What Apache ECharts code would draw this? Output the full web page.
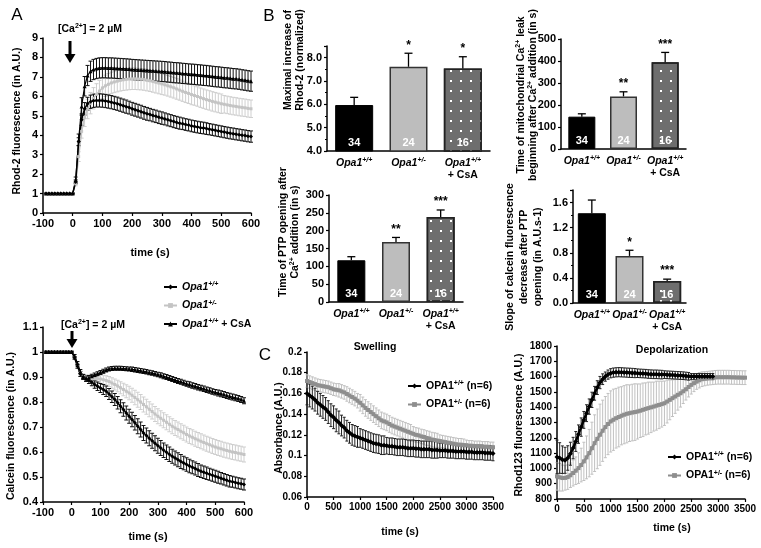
<!DOCTYPE html>
<html><head><meta charset="utf-8">
<script src="https://cdn.jsdelivr.net/npm/echarts/dist/echarts.min.js"></script>
<style>html,body{margin:0;padding:0;background:#fff}#c{width:761px;height:548px}</style>
</head><body><div id="c"></div><script>
// ---------- Panel A data (time in s) ----------
const tA = [-90,-80,-70,-60,-50,-40,-30,-20,-10,0,10,20,30,40,50,60,70,80,90,100,110,120,130,140,150,160,170,180,190,200,210,220,230,240,250,260,270,280,290,300,310,320,330,340,350,360,370,380,390,400,410,420,430,440,450,460,470,480,490,500,510,520,530,540,550,560,570,580,590,600];
const groupNames = ['Opa1+/+','Opa1+/-','Opa1+/+ + CsA'];
// Rhod-2 fluorescence
const rhodWT = [1,1,1,1,1,1,1,1,1,1,
 1.6,3.67,4.8,5.36,5.62,5.72,5.77,5.79,5.79,5.78,
 5.76,5.73,5.70,5.66,5.62,5.57,5.52,5.47,5.42,5.36,
 5.31,5.26,5.21,5.15,5.10,5.06,5.01,4.97,4.92,4.88,
 4.84,4.79,4.75,4.70,4.66,4.62,4.59,4.55,4.52,4.48,
 4.45,4.42,4.39,4.37,4.34,4.31,4.28,4.25,4.22,4.19,
 4.16,4.13,4.10,4.08,4.05,4.03,4.00,3.98,3.95,3.93];
const rhodWTerr = [0.03,0.03,0.03,0.03,0.03,0.03,0.03,0.03,0.03,0.03,
 0.1,0.2,0.3,0.32,0.33,0.34,0.34,0.34,0.34,0.34,
 0.34,0.34,0.34,0.34,0.34,0.34,0.34,0.34,0.33,0.33,
 0.33,0.33,0.33,0.33,0.33,0.32,0.32,0.32,0.32,0.32,
 0.31,0.31,0.31,0.31,0.31,0.31,0.30,0.30,0.30,0.30,
 0.30,0.30,0.30,0.30,0.30,0.29,0.29,0.29,0.29,0.29,
 0.29,0.29,0.29,0.29,0.29,0.29,0.29,0.29,0.29,0.29];
const rhodHet = [1,1,1,1,1,1,1,1,1,1,
 1.5,2.9,4.2,4.9,5.35,5.65,5.9,6.1,6.27,6.43,
 6.54,6.62,6.69,6.74,6.78,6.82,6.85,6.87,6.89,6.90,
 6.90,6.89,6.88,6.86,6.83,6.80,6.76,6.72,6.68,6.64,
 6.59,6.54,6.49,6.44,6.38,6.32,6.26,6.20,6.15,6.09,
 6.04,5.99,5.93,5.88,5.83,5.79,5.74,5.70,5.66,5.62,
 5.59,5.56,5.53,5.50,5.48,5.45,5.43,5.41,5.38,5.36];
const rhodHetErr = [0.03,0.03,0.03,0.03,0.03,0.03,0.03,0.03,0.03,0.03,
 0.1,0.25,0.35,0.45,0.5,0.55,0.55,0.55,0.55,0.55,
 0.55,0.55,0.55,0.55,0.55,0.55,0.55,0.55,0.55,0.55,
 0.55,0.55,0.55,0.55,0.55,0.55,0.55,0.55,0.55,0.55,
 0.53,0.53,0.53,0.53,0.53,0.52,0.52,0.52,0.52,0.52,
 0.5,0.5,0.5,0.5,0.5,0.5,0.5,0.5,0.5,0.5,
 0.45,0.45,0.45,0.45,0.45,0.45,0.45,0.45,0.45,0.45];
const rhodCsA = [1,1,1,1,1,1,1,1,1,1,
 1.7,3.76,5.48,6.52,7.07,7.29,7.38,7.43,7.46,7.47,
 7.47,7.46,7.46,7.45,7.44,7.43,7.42,7.41,7.40,7.38,
 7.37,7.36,7.35,7.34,7.33,7.32,7.31,7.30,7.29,7.28,
 7.27,7.25,7.24,7.22,7.21,7.20,7.18,7.17,7.15,7.14,
 7.13,7.11,7.10,7.08,7.07,7.05,7.03,7.01,7.00,6.98,
 6.96,6.95,6.93,6.91,6.90,6.88,6.85,6.83,6.80,6.78];
const rhodCsAerr = [0.03,0.03,0.03,0.03,0.03,0.03,0.03,0.03,0.03,0.03,
 0.15,0.3,0.45,0.5,0.52,0.52,0.52,0.52,0.52,0.52,
 0.52,0.52,0.52,0.52,0.52,0.52,0.52,0.52,0.52,0.52,
 0.52,0.52,0.52,0.52,0.52,0.52,0.52,0.52,0.52,0.52,
 0.52,0.52,0.52,0.52,0.52,0.52,0.52,0.52,0.52,0.52,
 0.52,0.52,0.52,0.52,0.52,0.52,0.52,0.52,0.52,0.52,
 0.52,0.52,0.52,0.52,0.52,0.52,0.52,0.52,0.52,0.52];
// Calcein fluorescence
const calWT = [1,1,1,1,1,1,1,1,1,1,
 0.976,0.943,0.912,0.9,0.892,0.886,0.879,0.87,0.863,0.856,
 0.85,0.843,0.832,0.821,0.81,0.797,0.783,0.77,0.756,0.743,
 0.73,0.717,0.703,0.69,0.676,0.666,0.655,0.645,0.635,0.625,
 0.616,0.607,0.599,0.591,0.583,0.576,0.569,0.562,0.556,0.55,
 0.544,0.539,0.534,0.528,0.523,0.519,0.515,0.511,0.507,0.503,
 0.499,0.495,0.491,0.487,0.483,0.481,0.478,0.475,0.473,0.47];
const calWTerr = [0.003,0.003,0.003,0.003,0.003,0.003,0.003,0.003,0.003,0.003,
 0.005,0.008,0.01,0.01,0.01,0.012,0.014,0.015,0.017,0.018,
 0.02,0.021,0.022,0.023,0.024,0.025,0.026,0.027,0.028,0.028,
 0.029,0.029,0.03,0.03,0.03,0.03,0.03,0.03,0.03,0.03,
 0.03,0.029,0.029,0.029,0.028,0.028,0.028,0.028,0.027,0.027,
 0.027,0.026,0.026,0.026,0.025,0.025,0.025,0.024,0.024,0.024,
 0.024,0.023,0.023,0.023,0.023,0.022,0.022,0.022,0.022,0.022];
const calHet = [1,1,1,1,1,1,1,1,1,1,
 0.978,0.948,0.918,0.902,0.896,0.895,0.894,0.893,0.893,0.892,
 0.889,0.886,0.882,0.876,0.87,0.864,0.857,0.85,0.843,0.836,
 0.827,0.818,0.809,0.8,0.79,0.781,0.771,0.762,0.752,0.743,
 0.735,0.727,0.719,0.711,0.703,0.696,0.69,0.683,0.677,0.67,
 0.664,0.659,0.653,0.648,0.643,0.638,0.633,0.629,0.624,0.62,
 0.616,0.613,0.609,0.606,0.603,0.6,0.598,0.595,0.593,0.59];
const calHetErr = [0.003,0.003,0.003,0.003,0.003,0.003,0.003,0.003,0.003,0.003,
 0.005,0.008,0.01,0.011,0.012,0.013,0.014,0.015,0.016,0.017,
 0.018,0.019,0.02,0.021,0.022,0.023,0.024,0.025,0.026,0.027,
 0.028,0.029,0.03,0.03,0.03,0.03,0.03,0.03,0.03,0.03,
 0.03,0.03,0.03,0.03,0.03,0.03,0.03,0.03,0.03,0.03,
 0.03,0.03,0.03,0.03,0.03,0.03,0.03,0.03,0.03,0.03,
 0.03,0.03,0.03,0.03,0.03,0.03,0.03,0.03,0.03,0.03];
const calCsA = [1,1,1,1,1,1,1,1,1,1,
 0.985,0.955,0.922,0.902,0.896,0.898,0.903,0.908,0.913,0.918,
 0.923,0.928,0.932,0.934,0.935,0.935,0.935,0.934,0.933,0.932,
 0.931,0.929,0.927,0.925,0.923,0.921,0.918,0.916,0.913,0.91,
 0.907,0.903,0.9,0.896,0.892,0.888,0.884,0.881,0.877,0.873,
 0.87,0.866,0.863,0.859,0.856,0.853,0.849,0.846,0.842,0.839,
 0.836,0.833,0.83,0.826,0.823,0.82,0.817,0.814,0.81,0.805];
const calCsAerr = [0.003,0.003,0.003,0.003,0.003,0.003,0.003,0.003,0.003,0.003,
 0.005,0.007,0.008,0.008,0.008,0.008,0.008,0.008,0.008,0.008,
 0.008,0.008,0.008,0.008,0.008,0.008,0.008,0.008,0.008,0.008,
 0.009,0.009,0.009,0.009,0.009,0.009,0.009,0.009,0.009,0.009,
 0.01,0.01,0.01,0.01,0.01,0.01,0.01,0.01,0.01,0.01,
 0.011,0.011,0.011,0.011,0.011,0.011,0.011,0.011,0.011,0.011,
 0.012,0.012,0.012,0.012,0.012,0.012,0.012,0.012,0.012,0.012];

// ---------- Panel B data ----------
const maxRhod = [5.97, 7.61, 7.54], maxRhodTop = [6.3, 8.19, 8.04], maxRhodStars = ['', '*', '*'];
const leakTime = [147, 239, 394], leakTimeTop = [160, 260, 439], leakStars = ['', '**', '***'];
const ptpTime = [117, 168, 238], ptpTimeTop = [127, 181, 258], ptpStars = ['', '**', '***'];
const slope = [1.43, 0.75, 0.35], slopeTop = [1.64, 0.84, 0.38], slopeStars = ['', '*', '***'];
const nCells = ['34', '24', '16'];

// ---------- Panel C data (time in s) ----------
const tC = [0,50,100,150,200,250,300,350,400,450,500,550,600,650,700,750,800,850,900,950,1000,1050,1100,1150,1200,1250,1300,1350,1400,1450,1500,1550,1600,1650,1700,1750,1800,1850,1900,1950,2000,2050,2100,2150,2200,2250,2300,2350,2400,2450,2500,2550,2600,2650,2700,2750,2800,2850,2900,2950,3000,3050,3100,3150,3200,3250,3300,3350,3400,3450,3500];
const cNames = ['OPA1+/+ (n=6)', 'OPA1+/- (n=6)'];
const swellWT = [.160,.158,.156,.154,.151,.149,.147,.145,.142,.139,
 .137,.134,.132,.129,.127,.124,.122,.120,.119,.118,
 .117,.116,.115,.114,.113,.112,.1115,.111,.110,.110,
 .1095,.109,.109,.1085,.108,.108,.108,.1075,.107,.107,
 .107,.1065,.1065,.106,.106,.106,.106,.1055,.1055,.1055,
 .105,.105,.105,.1045,.1045,.1045,.104,.104,.104,.104,
 .1035,.1035,.1035,.103,.103,.103,.103,.1025,.1025,.1025,.102];
const swellWTerr = [.011,.011,.011,.011,.011,.011,.011,.011,.011,.011,
 .011,.011,.011,.01,.01,.01,.01,.01,.01,.01,
 .009,.009,.009,.009,.009,.009,.009,.009,.009,.009,
 .008,.008,.008,.008,.008,.008,.008,.008,.008,.008,
 .008,.008,.008,.008,.008,.008,.008,.008,.008,.008,
 .007,.007,.007,.007,.007,.007,.007,.007,.007,.007,
 .007,.007,.007,.007,.007,.007,.007,.007,.007,.007,.007];
const swellHet = [.172,.171,.170,.169,.168,.1675,.167,.1665,.166,.165,
 .164,.1635,.163,.162,.161,.1595,.158,.1565,.155,.153,
 .151,.1485,.146,.144,.142,.140,.138,.136,.134,.133,
 .132,.1305,.129,.128,.127,.126,.125,.124,.123,.122,
 .121,.120,.1195,.1185,.118,.117,.1165,.1155,.115,.1145,
 .114,.1135,.113,.1125,.112,.1115,.111,.1105,.1105,.110,
 .110,.1095,.1095,.109,.109,.109,.1085,.1085,.1085,.108,.108];
const swellHetErr = [.006,.006,.006,.006,.006,.006,.006,.006,.006,.006,
 .006,.006,.0065,.0065,.0065,.007,.007,.007,.007,.007,
 .008,.008,.008,.008,.008,.008,.008,.008,.008,.008,
 .008,.008,.008,.008,.008,.008,.008,.008,.008,.008,
 .007,.007,.007,.007,.007,.007,.007,.007,.007,.007,
 .006,.006,.006,.006,.006,.006,.006,.006,.006,.006,
 .005,.005,.005,.005,.005,.005,.005,.005,.005,.005,.005];
const depolWT = [1075,1068,1057,1053,1068,1096,1133,1176,1224,1270,
 1317,1361,1404,1448,1491,1528,1561,1583,1600,1613,
 1622,1626,1628,1629,1628,1627,1626,1625,1624,1623,
 1622,1621,1620,1619,1617,1616,1615,1615,1614,1613,
 1613,1612,1611,1610,1609,1608,1607,1606,1604,1602,
 1600,1600,1600,1600,1600,1600,1600,1600,1600];
const depolWTerr = [110,100,90,85,80,75,70,65,60,60,
 55,55,50,50,45,45,40,35,30,30,
 30,30,30,30,30,30,30,30,30,30,
 28,28,28,28,28,28,28,28,28,28,
 25,25,25,25,25,25,25,25,25,25,
 20,20,20,20,20,20,20,20,20];
const depolHet = [948,942,937,938,943,955,970,985,1002,1022,
 1046,1072,1100,1132,1165,1193,1220,1246,1270,1290,
 1307,1318,1328,1336,1344,1351,1357,1361,1365,1368,
 1372,1377,1383,1389,1394,1399,1404,1410,1415,1420,
 1426,1437,1448,1459,1470,1481,1491,1504,1517,1532,
 1546,1557,1567,1576,1583,1586,1589,1591,1593,1595,
 1596,1596,1596,1596,1596,1595,1595,1594,1594,1593,1593];
const depolHetErr = [90,90,85,80,80,80,85,90,100,110,
 125,140,155,170,185,195,200,200,200,200,
 200,200,195,195,190,190,190,185,185,185,
 180,175,175,170,170,165,160,160,155,150,
 145,140,130,120,110,100,90,80,70,65,
 60,55,50,50,48,46,45,45,45,45,
 45,45,45,45,45,45,45,45,45,45,45];

// ---------- helpers ----------
const F = '"Liberation Sans", Arial, sans-serif';
function xy(xs, ys) { return ys.map((v, i) => [xs[i], v]); }
function xye(xs, ys, es) { return ys.map((v, i) => [xs[i], v, es[i]]); }
function errRender(cap, color, w) {
  return function (params, api) {
    const x = api.value(0), y = api.value(1), e = api.value(2);
    const a = api.coord([x, y + e]), b = api.coord([x, y - e]);
    const st = { stroke: color, lineWidth: w };
    return { type: 'group', children: [
      { type: 'line', shape: { x1: a[0], y1: a[1], x2: b[0], y2: b[1] }, style: st },
      { type: 'line', shape: { x1: a[0] - cap, y1: a[1], x2: a[0] + cap, y2: a[1] }, style: st },
      { type: 'line', shape: { x1: b[0] - cap, y1: b[1], x2: b[0] + cap, y2: b[1] }, style: st }
    ] };
  };
}
function errSeries(ai, xs, ys, es, color, cap, w) {
  return { type: 'custom', xAxisIndex: ai, yAxisIndex: ai, data: xye(xs, ys, es),
    encode: { x: 0, y: 1 }, renderItem: errRender(cap, color, w), silent: true };
}
function lineSeries(ai, name, xs, ys, color, sym, size, w) {
  return { type: 'line', name: name, xAxisIndex: ai, yAxisIndex: ai, data: xy(xs, ys),
    symbol: sym, symbolSize: size, showSymbol: true, lineStyle: { color: color, width: w },
    itemStyle: { color: color }, silent: true };
}
function opaRich(s, oneLine) {
  const parts = s.split(' + ');
  const m = parts[0].match(/^([A-Za-z]+1)(.*)$/);
  let r = '{it|' + m[1] + '}{sp|' + m[2] + '}';
  if (parts[1]) r += (oneLine ? '{nb| + ' : '\n{nb|+ ') + parts[1] + '}';
  return r;
}
function richSet(fs) {
  return {
    it: { fontStyle: 'italic', fontWeight: 'bold', fontSize: fs, fontFamily: F, color: '#000', lineHeight: 12 },
    sp: { fontStyle: 'italic', fontWeight: 'bold', fontSize: 7, fontFamily: F, color: '#000', lineHeight: 7, verticalAlign: 'top' },
    nb: { fontWeight: 'bold', fontSize: fs, fontFamily: F, color: '#000', lineHeight: 12 },
    n: { fontWeight: 'bold', fontSize: fs, fontFamily: F, color: '#000', lineHeight: 12 },
    s: { fontWeight: 'bold', fontSize: 7, fontFamily: F, color: '#000', lineHeight: 7, verticalAlign: 'top' }
  };
}
function cRich(s) {
  const m = s.match(/^(OPA1)(\S+)(.*)$/);
  return '{n|' + m[1] + '}{s|' + m[2] + '}{n|' + m[3] + '}';
}
const plain = v => String(v);
function valAxis(gi, min, max, interval, fs, fmt, minor) {
  return { type: 'value', gridIndex: gi, min: min, max: max, interval: interval,
    axisLine: { show: true, onZero: false, lineStyle: { color: '#000', width: 1.5 } },
    axisTick: { show: true, inside: false, length: 3, lineStyle: { color: '#000', width: 1.2 } },
    minorTick: minor ? { show: true, splitNumber: minor, length: 2, lineStyle: { color: '#000', width: 1 } } : { show: false },
    axisLabel: { color: '#000', fontWeight: 'bold', fontSize: fs, fontFamily: F, margin: 5, formatter: fmt || plain },
    splitLine: { show: false }, minorSplitLine: { show: false } };
}
function catAxis(gi) {
  return { type: 'category', gridIndex: gi, data: groupNames,
    axisLine: { show: true, lineStyle: { color: '#000', width: 1.5 } }, axisTick: { show: false },
    axisLabel: { margin: 6, interval: 0, formatter: v => opaRich(v, false), rich: richSet(10.5) },
    splitLine: { show: false } };
}
const barStyles = [
  { color: '#000', borderColor: '#000', borderWidth: 1 },
  { color: '#bdbdbd', borderColor: '#333', borderWidth: 1.5 },
  { color: '#6e6e6e', borderColor: '#222', borderWidth: 1.5,
    decal: { symbol: 'rect', symbolSize: 1, color: '#ffffff', backgroundColor: null, dashArrayX: [2, 8], dashArrayY: [2, 8], rotation: 0 } }
];
function barSeries(ai, vals, bw) {
  return { type: 'bar', xAxisIndex: ai, yAxisIndex: ai, barWidth: bw, clip: true, silent: true,
    data: vals.map((v, i) => ({ value: v, itemStyle: barStyles[i] })) };
}
function barDecor(ai, vals, tops, stars, ymin) {
  return { type: 'custom', xAxisIndex: ai, yAxisIndex: ai, silent: true, z: 5,
    data: vals.map((v, i) => [groupNames[i], v, tops[i]]), encode: { x: 0, y: 1 },
    renderItem: function (params, api) {
      const i = params.dataIndex;
      const idx = api.value(0), v = api.value(1), t = api.value(2);
      const p0 = api.coord([idx, v]), p1 = api.coord([idx, t]), pb = api.coord([idx, ymin]);
      const ls = { stroke: '#000', lineWidth: 1.3 };
      const ch = [
        { type: 'line', shape: { x1: p0[0], y1: p0[1], x2: p1[0], y2: p1[1] }, style: ls },
        { type: 'line', shape: { x1: p1[0] - 4, y1: p1[1], x2: p1[0] + 4, y2: p1[1] }, style: ls },
        { type: 'text', x: pb[0], y: pb[1] - 3, style: { text: nCells[i], fill: '#fff', font: 'bold 11px ' + F, align: 'center', verticalAlign: 'bottom' } }
      ];
      if (stars[i]) ch.push({ type: 'text', x: p1[0], y: p1[1] - 2, style: { text: stars[i], fill: '#000', font: 'bold 12px ' + F, align: 'center', verticalAlign: 'bottom' } });
      return { type: 'group', children: ch };
    } };
}
function gText(x, y, text, fs, opts) {
  opts = opts || {};
  return { type: 'text', x: x, y: y, rotation: opts.rot || 0, silent: true,
    style: { text: text, fill: '#000', font: (opts.weight || 'bold') + ' ' + fs + 'px ' + F,
      align: 'center', verticalAlign: 'middle', textAlign: 'center', textVerticalAlign: 'middle',
      lineHeight: opts.lh || fs + 2, rich: opts.rich } };
}
const R = Math.PI / 2;
const supRich = {
  b: { fontWeight: 'bold', fontSize: 10.5, fontFamily: F, color: '#000', lineHeight: 12 },
  s: { fontWeight: 'bold', fontSize: 7, fontFamily: F, color: '#000', lineHeight: 7, verticalAlign: 'top' }
};
function arrow(x, y1, y2) {
  return [
    { type: 'rect', silent: true, shape: { x: x - 1.5, y: y1, width: 3, height: y2 - y1 - 7 }, style: { fill: '#000' } },
    { type: 'polygon', silent: true, shape: { points: [[x - 5.5, y2 - 9], [x + 5.5, y2 - 9], [x, y2]] }, style: { fill: '#000' } }
  ];
}

const grids = [
  { left: 43, top: 38, width: 208, height: 175 },
  { left: 43, top: 327, width: 201, height: 175 },
  { left: 327, top: 46, width: 163, height: 105 },
  { left: 561, top: 39, width: 125, height: 110 },
  { left: 329, top: 195, width: 134, height: 107 },
  { left: 573, top: 190, width: 113, height: 113 },
  { left: 307, top: 352, width: 186, height: 145 },
  { left: 557, top: 346, width: 188, height: 153 }
].map(g => Object.assign({ containLabel: false, outerBoundsMode: 'none' }, g));

const xAxes = [
  valAxis(0, -100, 600, 100, 11),
  valAxis(1, -100, 600, 100, 11),
  catAxis(2), catAxis(3), catAxis(4), catAxis(5),
  valAxis(6, 0, 3500, 500, 10),
  valAxis(7, 0, 3500, 500, 10)
];
const yAxes = [
  valAxis(0, 0, 9, 1, 11),
  valAxis(1, 0.4, 1.1, 0.1, 11),
  valAxis(2, 4, 8.5, 1, 11, v => v > 8.2 ? '' : v.toFixed(1), 2),
  valAxis(3, 0, 500, 100, 11),
  valAxis(4, 0, 300, 50, 11),
  valAxis(5, 0, 1.8, 0.4, 11, v => v > 1.7 ? '' : v.toFixed(1), 2),
  valAxis(6, 0.06, 0.2, 0.02, 10),
  valAxis(7, 800, 1800, 100, 10)
];

const black = '#000', hetA = '#c4c4c4', hetAerr = '#cfcfcf', hetC = '#8e8e8e', hetCerr = '#c0c0c0';
const series = [
  // A top
  errSeries(0, tA, rhodHet, rhodHetErr, hetAerr, 2, 1),
  lineSeries(0, groupNames[1], tA, rhodHet, hetA, 'rect', 3, 1.5),
  errSeries(0, tA, rhodWT, rhodWTerr, '#111', 2, 1),
  lineSeries(0, groupNames[0], tA, rhodWT, black, 'diamond', 4, 1.5),
  errSeries(0, tA, rhodCsA, rhodCsAerr, '#111', 2, 1),
  lineSeries(0, groupNames[2], tA, rhodCsA, black, 'triangle', 4, 1.2),
  // A bottom
  errSeries(1, tA, calHet, calHetErr, hetAerr, 2, 1),
  lineSeries(1, groupNames[1], tA, calHet, hetA, 'rect', 3, 1.5),
  errSeries(1, tA, calWT, calWTerr, '#111', 2, 1),
  lineSeries(1, groupNames[0], tA, calWT, black, 'diamond', 4, 1.5),
  errSeries(1, tA, calCsA, calCsAerr, '#111', 2, 1),
  lineSeries(1, groupNames[2], tA, calCsA, black, 'triangle', 4, 1.2),
  // B
  barSeries(2, maxRhod, 38), barDecor(2, maxRhod, maxRhodTop, maxRhodStars, 4),
  barSeries(3, leakTime, 27), barDecor(3, leakTime, leakTimeTop, leakStars, 0),
  barSeries(4, ptpTime, 28), barDecor(4, ptpTime, ptpTimeTop, ptpStars, 0),
  barSeries(5, slope, 28), barDecor(5, slope, slopeTop, slopeStars, 0),
  // C left
  errSeries(6, tC, swellHet, swellHetErr, hetCerr, 1.5, 1),
  lineSeries(6, cNames[1], tC, swellHet, hetC, 'rect', 4, 2.5),
  errSeries(6, tC, swellWT, swellWTerr, '#222', 1.5, 1),
  lineSeries(6, cNames[0], tC, swellWT, black, 'diamond', 5, 2.5),
  // C right
  errSeries(7, tC, depolHet, depolHetErr, hetCerr, 1.5, 1),
  lineSeries(7, cNames[1], tC, depolHet, hetC, 'rect', 4, 2.5),
  errSeries(7, tC, depolWT, depolWTerr, '#222', 1.5, 1),
  lineSeries(7, cNames[0], tC, depolWT, black, 'diamond', 5, 2.5)
];

const legends = [
  { data: groupNames, orient: 'vertical', left: 158, top: 276, itemGap: 7, itemWidth: 13, itemHeight: 6,
    selectedMode: false, formatter: n => opaRich(n, true), textStyle: { rich: richSet(10.5) } },
  { data: cNames, orient: 'vertical', left: 402, top: 375, itemGap: 7, itemWidth: 13, itemHeight: 6,
    selectedMode: false, formatter: cRich, textStyle: { rich: richSet(10.5) } },
  { data: cNames, orient: 'vertical', left: 662, top: 446, itemGap: 7, itemWidth: 13, itemHeight: 6,
    selectedMode: false, formatter: cRich, textStyle: { rich: richSet(10.5) } }
];

const graphics = [
  gText(17, 15, 'A', 17, { weight: 'normal' }),
  gText(269, 16, 'B', 17, { weight: 'normal' }),
  gText(265, 355, 'C', 17, { weight: 'normal' }),
  gText(90, 29, '{b|[Ca}{s|2+}{b|] = 2 \u00b5M}', 10.5, { rich: supRich }),
  gText(93, 325, '{b|[Ca}{s|2+}{b|] = 2 \u00b5M}', 10.5, { rich: supRich }),
  gText(150, 253, 'time (s)', 11),
  gText(148, 537, 'time (s)', 11),
  gText(400, 532, 'time (s)', 10.5),
  gText(672, 528, 'time (s)', 10.5),
  gText(375, 347, 'Swelling', 10.5),
  gText(672, 350, 'Depolarization', 10.5),
  gText(17, 121, 'Rhod-2 fluorescence (in A.U.)', 10.5, { rot: R }),
  gText(11, 426, 'Calcein fluorescence (in A.U.)', 10.5, { rot: R }),
  gText(294, 60, 'Maximal increase of\nRhod-2 (normalized)', 10.5, { rot: R, lh: 12 }),
  gText(527, 95, '{b|Time of mitochondrial Ca}{s|2+}{b| leak}\n{b|beginning after Ca}{s|2+}{b| addition (in s)}', 10.5, { rot: R, rich: supRich }),
  gText(289, 232, '{b|Time of PTP opening after}\n{b|Ca}{s|2+}{b| addition (in s)}', 10.5, { rot: R, rich: supRich }),
  gText(524, 257, 'Slope of calcein fluorescence\ndecrease after PTP\nopening (in A.U.s-1)', 10.5, { rot: R, lh: 14 }),
  gText(279, 428, 'Absorbance (A.U.)', 10.5, { rot: R }),
  gText(519, 425, 'Rhod123 fluorescence (A.U.)', 10.5, { rot: R })
].concat(arrow(70, 41, 63), arrow(72, 331, 348));

const chart = echarts.init(document.getElementById('c'), null, { renderer: 'canvas' });
chart.setOption({
  animation: false,
  backgroundColor: '#fff',
  textStyle: { fontFamily: F },
  grid: grids, xAxis: xAxes, yAxis: yAxes, series: series, legend: legends, graphic: graphics
});
</script></body></html>
